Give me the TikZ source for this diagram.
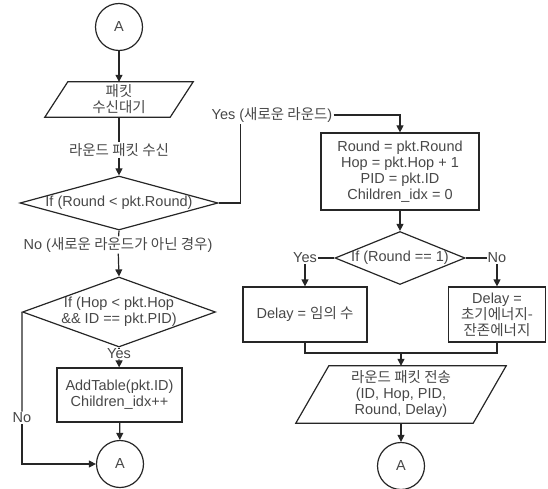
\documentclass[tikz,border=0pt]{standalone}
\usepackage{fontspec}
\setmainfont{Liberation Sans}
\newfontfamily\kr{Noto Sans CJK KR}
\usetikzlibrary{arrows.meta,shapes.geometric}
\newcommand{\fitin}[1]{\makebox[0pt]{\begin{tabular}{@{}c@{}}#1\end{tabular}}}
\begin{document}
\begin{tikzpicture}[x=1pt, y=-1pt,
    every node/.style={font=\fontsize{14.5}{16}\selectfont, text=black!72},
    wire/.style={line width=1.2pt, draw=black!85},
    flow/.style={wire, -{Triangle[width=7pt,length=7pt]}},
    conn/.style={circle, wire, minimum size=47pt, inner sep=0pt},
    io/.style={rectangle, align=center, inner sep=0pt},
    proc/.style={rectangle, wire, align=center, inner sep=0pt},
    decide/.style={diamond, wire, inner sep=0pt},
    lbl/.style={inner sep=1pt}]
        \useasboundingbox (0,0) rectangle (548,489);
        \node[conn] (a1) at (119,27) {A};
        \node[io, minimum width=125pt, minimum height=35pt] (p1) at (119,99.5) {{\kr 패킷}\\{\kr 수신대기}};
        \node[lbl] (r1) at (119,150) {\kr 라운드 패킷 수신};
        \node[decide, minimum width=198pt, minimum height=54pt] (d1) at (119,203) {\fitin{If (Round < pkt.Round)}};
        \node[lbl] (y1) at (272,115) {Yes ({\kr 새로운 라운드})};
        \node[lbl] (n1) at (118,245) {No ({\kr 새로운 라운드가 아닌 경우})};
        \node[decide, minimum width=193pt, minimum height=70pt] (d3) at (119,312) {\fitin{If (Hop < pkt.Hop\\\&\& ID == pkt.PID)}};
        \node[inner sep=0pt] (y3) at (119,354) {Yes};
        \node[proc, minimum width=125pt, minimum height=54pt] (b4) at (119.5,395) {AddTable(pkt.ID)\\Children\_idx++};
        \node[conn] (a2) at (120,464) {A};
        \node[lbl, fill=white] (n3) at (22,418) {No};

        \node[proc, minimum width=158pt, minimum height=77pt] (b1) at (400,171.5) {Round = pkt.Round\\Hop = pkt.Hop + 1\\PID = pkt.ID\\Children\_idx = 0};
        \node[decide, minimum width=130pt, minimum height=53pt] (d2) at (400,258) {\fitin{If (Round == 1)}};
        \node[lbl] (y2) at (305,258) {Yes};
        \node[lbl] (n2) at (497,258) {No};
        \node[proc, minimum width=124pt, minimum height=55pt] (b2) at (305,314.5) {Delay = {\kr 임의 수}};
        \node[proc, minimum width=97pt, minimum height=55pt] (b3) at (497,314.5) {Delay =\\{\kr 초기에너지-}\\{\kr 잔존에너지}};
        \coordinate (m) at (401,353);
        \node[io, minimum width=177pt, minimum height=57pt] (p2) at (401,394.5) {{\kr 라운드 패킷 전송}\\(ID, Hop, PID,\\Round, Delay)};
        \node[conn] (a3) at (401,466) {A};

        \draw[wire] ([xshift=-11.5pt]p1.south west) -- ([xshift=-11.5pt]p1.south east)
                 -- ([xshift=11.5pt]p1.north east) -- ([xshift=11.5pt]p1.north west) -- cycle;
        \draw[wire] ([xshift=-16.5pt]p2.south west) -- ([xshift=-16.5pt]p2.south east)
                 -- ([xshift=16.5pt]p2.north east) -- ([xshift=16.5pt]p2.north west) -- cycle;

        \draw[flow] (a1) -- (p1);
        \draw[wire] (p1) -- (r1);
        \draw[flow] (r1) -- (d1);
        \draw[wire] (d1.east) -| ([xshift=30pt]y1.south west);
        \draw[flow] (y1.east) -| (b1.north);
        \draw[wire] (d1.south) -- (n1);
        \draw[flow] (n1) -- (d3.north);
        \draw[wire] (d3.south) -- (y3);
        \draw[flow] (y3) -- (b4);
        \draw[flow] (b4) -- (a2);
        \draw[wire] (d3.west) -- (n3);
        \draw[flow] (n3) |- (a2);
        \draw[flow] (b1) -- (d2);
        \draw[wire] (d2.west) -- (y2);
        \draw[flow] (y2) -- (b2);
        \draw[wire] (d2.east) -- (n2);
        \draw[flow] (n2) -- (b3);
        \draw[wire] (b2.south) |- (m) -| (b3.south);
        \draw[flow] (m) -- (p2.north);
        \draw[flow] (p2) -- (a3);
      \end{tikzpicture}
\end{document}
